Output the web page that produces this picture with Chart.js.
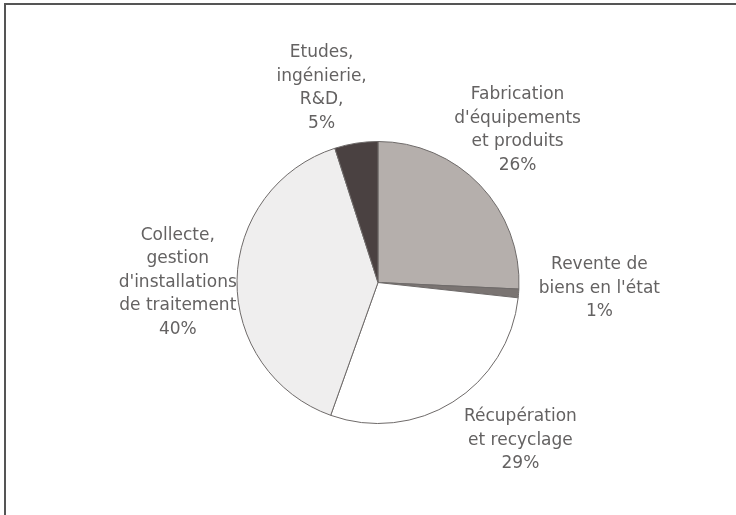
<!DOCTYPE html>
<html>
<head>
<meta charset="utf-8">
<script src="https://cdn.jsdelivr.net/npm/chart.js@4"></script>
<style>
  html, body { margin: 0; padding: 0; background: #fff; }
  #wrap { position: relative; width: 736px; height: 515px; }
  #frame { position: absolute; left: 4px; top: 3px; right: 0; bottom: 0;
           border-left: 2px solid #555; border-top: 2px solid #555; pointer-events: none; }
</style>
</head>
<body>
<div id="wrap">
  <canvas id="pieChart" width="736" height="515"></canvas>
  <div id="frame"></div>
</div>
<script>
// Data
const categories = [
    ['Fabrication', "d'équipements", 'et produits', '26%'],
    ['Revente de', "biens en l'état", '1%'],
    ['Récupération', 'et recyclage', '29%'],
    ['Collecte,', 'gestion', "d'installations", 'de traitement', '40%'],
    ['Etudes,', 'ingénierie,', 'R&D,', '5%']
];
const shares = [26, 1, 29, 40, 5];
const sliceColors = ['#b5afac', '#7a7472', '#ffffff', '#efeeee', '#4a4141'];

// where each label block sits, in pie radii from the centre
const labelPlacement = [
    [0.99, -1.08],
    [1.57, 0.04],
    [1.01, 1.12],
    [-1.42, 0.0],
    [-0.40, -1.38]
];

const outsideLabels = {
    id: 'outsideLabels',
    afterDraw(chart) {
        const ctx = chart.ctx;
        const arcs = chart.getDatasetMeta(0).data;
        ctx.save();
        ctx.font = '17px "DejaVu Sans", sans-serif';
        ctx.fillStyle = '#646262';
        ctx.textAlign = 'center';
        ctx.textBaseline = 'middle';
        arcs.forEach((arc, i) => {
            const lines = categories[i];
            const cx = arc.x + labelPlacement[i][0] * arc.outerRadius;
            const cy = arc.y + labelPlacement[i][1] * arc.outerRadius;
            const lh = 23.5;
            const top = cy - (lines.length - 1) * lh / 2;
            lines.forEach((t, k) => ctx.fillText(t, cx, top + k * lh));
        });
        ctx.restore();
    }
};

new Chart(document.getElementById('pieChart'), {
    type: 'pie',
    data: {
        labels: categories.map(c => c.join(' ')),
        datasets: [{
            data: shares,
            backgroundColor: sliceColors,
            borderColor: '#6e6a69',
            borderWidth: 1
        }]
    },
    options: {
        responsive: false,
        animation: false,
        layout: { padding: { top: 141, bottom: 91, left: 228, right: 208 } },
        plugins: {
            legend: { display: false },
            tooltip: { enabled: false }
        }
    },
    plugins: [outsideLabels]
});
</script>
</body>
</html>
